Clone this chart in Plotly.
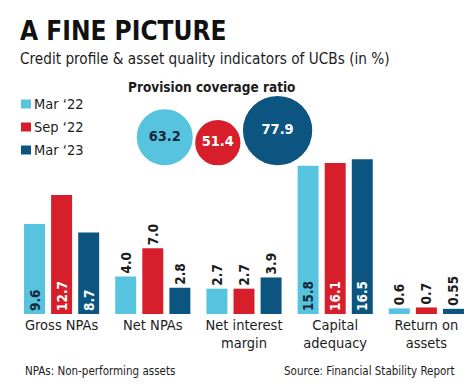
import plotly.graph_objects as go

# ---------------- data ----------------
categories = ["Gross NPAs", "Net NPAs", "Net interest<br>margin", "Capital<br>adequacy", "Return on<br>assets"]
periods = ["Mar ‘22", "Sep ‘22", "Mar ‘23"]
mar22 = [9.6, 4.0, 2.7, 15.8, 0.6]
sep22 = [12.7, 7.0, 2.7, 16.1, 0.7]
mar23 = [8.7, 2.8, 3.9, 16.5, 0.55]
provision_coverage = [63.2, 51.4, 77.9]

# ---------------- style ----------------
colors = ["#57c4df", "#d71f2b", "#0b5580"]
inside_text_colors = ["#15283a", "#ffffff", "#ffffff"]
FONT = "DejaVu Sans Condensed, DejaVu Sans, sans-serif"
DARK = "#1c1c1c"

W, H = 475, 387
L, R, T, B = 8, 11, 60, 81
PW, PH = W - L - R, H - T - B
PX_PER_UNIT = 9.375


def fx(p):
    return (p - L) / PW


def fy(p):
    return (H - B - p) / PH


def fmt(v):
    s = f"{v:.2f}".rstrip("0")
    return s + "0" if s.endswith(".") else s


fig = go.Figure()

series = [mar22, sep22, mar23]
bw, step = 0.23, 0.297
for i, (name, vals) in enumerate(zip(periods, series)):
    fig.add_trace(go.Bar(
        x=categories, y=vals, name=name,
        marker=dict(color=colors[i], line=dict(width=0)),
        width=bw, offset=(i - 1) * step - bw / 2,
        text=[fmt(v) for v in vals],
        textposition=["inside" if v > 8 else "outside" for v in vals],
        textangle=-90, insidetextanchor="start", constraintext="none",
        insidetextfont=dict(family=FONT, size=13.5, color=inside_text_colors[i], weight="bold"),
        outsidetextfont=dict(family=FONT, size=13.5, color=DARK, weight="bold"),
        cliponaxis=False, showlegend=False, hoverinfo="skip",
    ))

# ---------------- provision coverage circles ----------------
sizeref = 1.1
diam = [v / sizeref for v in provision_coverage]
left0, gap, base_y = 128, 1, 158
cx, cy = [], []
cur = left0
for d in diam:
    cx.append(cur + d / 2)
    cy.append(base_y - d / 2)
    cur += d + gap

fig.add_trace(go.Scatter(
    x=cx, y=cy, xaxis="x2", yaxis="y2", mode="markers+text",
    marker=dict(size=provision_coverage, sizemode="diameter", sizeref=sizeref,
                color=colors, line=dict(color="white", width=1.5), opacity=1),
    text=[fmt(v) for v in provision_coverage], textposition="middle center",
    textfont=dict(family=FONT, size=14.5, color=inside_text_colors, weight="bold"),
    cliponaxis=False, showlegend=False, hoverinfo="skip",
))

# ---------------- manual legend ----------------
shapes = []
annotations = []
for i, name in enumerate(periods):
    yc = 96 + i * 23
    shapes.append(dict(type="rect", xref="paper", yref="paper",
                       x0=fx(13), x1=fx(23), y0=fy(yc + 4.5), y1=fy(yc - 4.5),
                       fillcolor=colors[i], line=dict(width=0)))
    annotations.append(dict(text=name, xref="paper", yref="paper", x=fx(24), y=fy(yc),
                            xanchor="left", yanchor="middle", showarrow=False,
                            font=dict(family=FONT, size=14.5, color=DARK)))

# dotted border at right
shapes.append(dict(type="line", xref="paper", yref="paper", x0=fx(473.5), x1=fx(473.5),
                   y0=fy(H), y1=fy(0), line=dict(color="#b0b0b0", width=1, dash="dot")))

annotations += [
    dict(text="<b>A FINE PICTURE</b>", x=fx(10), y=fy(23), xanchor="left", yanchor="middle",
         font=dict(family=FONT, size=26, color="#111111")),
    dict(text="Credit profile & asset quality indicators of UCBs (in %)", x=fx(10), y=fy(51),
         xanchor="left", yanchor="middle", font=dict(family=FONT, size=15.2, color=DARK)),
    dict(text="<b>Provision coverage ratio</b>", x=fx(203), y=fy(79), xanchor="center", yanchor="middle",
         font=dict(family=FONT, size=13.5, color=DARK)),
    dict(text="NPAs: Non-performing assets", x=fx(15), y=fy(363), xanchor="left", yanchor="middle",
         font=dict(family=FONT, size=11.5, color=DARK)),
    dict(text="Source: Financial Stability Report", x=fx(449), y=fy(363), xanchor="right", yanchor="middle",
         font=dict(family=FONT, size=11.5, color=DARK)),
]
for a in annotations:
    a.setdefault("xref", "paper")
    a.setdefault("yref", "paper")
    a.setdefault("showarrow", False)

fig.update_layout(
    width=W, height=H, margin=dict(l=L, r=R, t=T, b=B),
    paper_bgcolor="white", plot_bgcolor="white",
    barmode="overlay",
    font=dict(family=FONT, color=DARK),
    xaxis=dict(type="category", range=[-0.5, 4.5], showgrid=False, zeroline=False, showline=False,
               ticks="", ticklen=0, tickfont=dict(family=FONT, size=14.5, color=DARK), fixedrange=True),
    yaxis=dict(range=[0, PH / PX_PER_UNIT], visible=False, fixedrange=True),
    xaxis2=dict(overlaying="x", range=[L, L + PW], visible=False, fixedrange=True),
    yaxis2=dict(overlaying="y", range=[H - B, T], visible=False, fixedrange=True),
    shapes=shapes, annotations=annotations,
)

fig.write_html("out.html")
